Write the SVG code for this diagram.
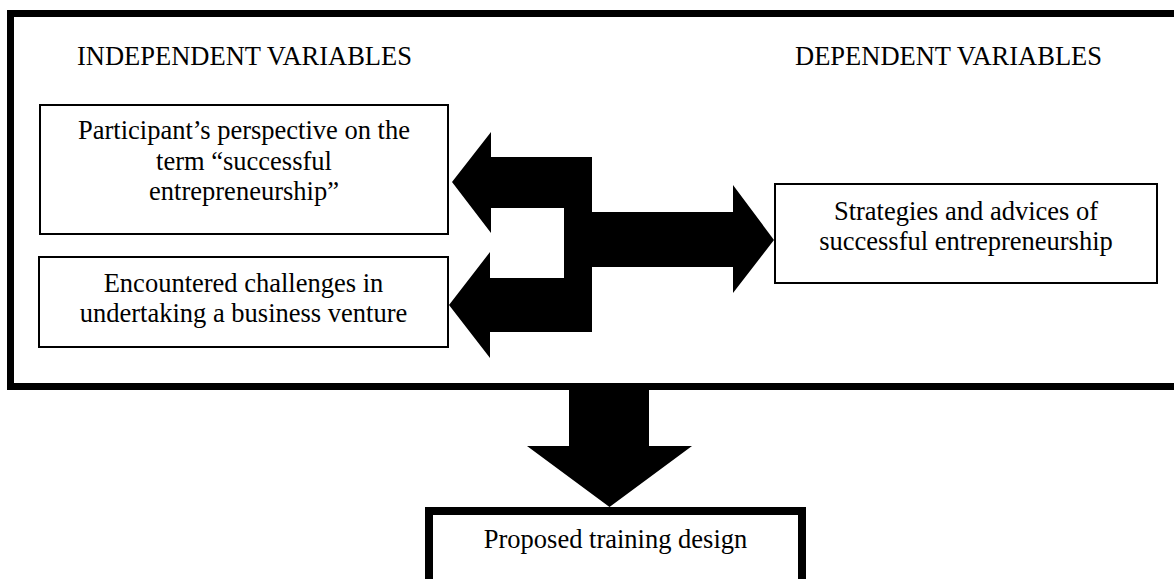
<svg xmlns="http://www.w3.org/2000/svg" width="1174" height="579" viewBox="0 0 1174 579">
<style>
.t{font-family:"Liberation Serif","Times New Roman",serif;font-size:26.5px;fill:#000}
.c{text-anchor:middle}
.box{fill:#fff;stroke:#000;stroke-width:2}
.thick{fill:none;stroke:#000;stroke-width:7}
.arr{fill:#000;stroke:none}
</style>
<rect width="1174" height="579" fill="#fff"/>
<g id="frame">
<rect class="thick" x="10.5" y="13.5" width="1175" height="373"/>
<text class="t" x="77" y="65">INDEPENDENT VARIABLES</text>
<text class="t" x="795" y="65">DEPENDENT VARIABLES</text>
</g>
<g id="connectors">
<polygon class="arr" points="452,182 491,132 491,157 592,157 592,208 491,208 491,233"/>
<rect class="arr" x="564" y="157" width="28" height="175"/>
<polygon class="arr" points="449,305 490,252 490,278 592,278 592,332 490,332 490,358"/>
<polygon class="arr" points="586,212 733,212 733,185 774,240 733,293 733,267 586,267"/>
<polygon class="arr" points="569,388 649,388 649,446 692,446 609.5,507 527,446 569,446"/>
</g>
<g id="node-perspective">
<rect class="box" x="40" y="105" width="408" height="129"/>
<text class="t c" x="244" y="139">Participant’s perspective on the</text>
<text class="t c" x="244" y="170">term “successful</text>
<text class="t c" x="244" y="200">entrepreneurship”</text>
</g>
<g id="node-challenges">
<rect class="box" x="39" y="257" width="409" height="90"/>
<text class="t c" x="243.5" y="292">Encountered challenges in</text>
<text class="t c" x="243.5" y="322">undertaking a business venture</text>
</g>
<g id="node-strategies">
<rect class="box" x="775" y="184" width="382" height="99"/>
<text class="t c" x="966" y="220">Strategies and advices of</text>
<text class="t c" x="966" y="250">successful entrepreneurship</text>
</g>
<g id="node-training">
<rect x="429" y="511" width="373" height="90" fill="#fff" stroke="#000" stroke-width="8"/>
<text class="t c" x="615.5" y="548">Proposed training design</text>
</g>
</svg>
